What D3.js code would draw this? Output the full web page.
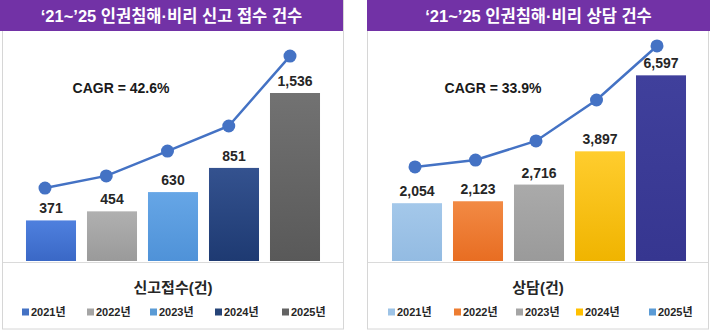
<!DOCTYPE html>
<html><head><meta charset="utf-8">
<script src="https://cdn.jsdelivr.net/npm/d3@7"></script>
<style>
html,body{margin:0;padding:0;background:#fff;}
svg{display:block;}
text{font-family:"Liberation Sans","Noto Sans CJK KR",sans-serif;}
</style></head>
<body>
<script>
// ---- data ----
const years = ["2021년","2022년","2023년","2024년","2025년"];
const reportTitle = "‘21~’25 인권침해·비리 신고 접수 건수";
const reportAxisTitle = "신고접수(건)";
const reportValues = [371, 454, 630, 851, 1536];
const reportTrend = [31.7, 37.0, 47.8, 58.7, 89.1];   // secondary-axis trend line (index 0–100)
const reportCagr = "CAGR = 42.6%";
const reportColors = [["#4f80de","#3a68c6"],["#b0b0b0","#9a9a9a"],["#66a6e6","#4f92d8"],["#34528f","#1e3a72"],["#727272","#595959"]];
const reportLegendColors = ["#4472c4","#a5a5a5","#5b9bd5","#264478","#636363"];

const counselTitle = "‘21~’25 인권침해·비리 상담 건수";
const counselAxisTitle = "상담(건)";
const counselValues = [2054, 2123, 2716, 3897, 6597];
const counselTrend = [40.9, 43.9, 52.2, 70.0, 93.5];  // secondary-axis trend line (index 0–100)
const counselCagr = "CAGR = 33.9%";
const counselColors = [["#a4c8ea","#93bbe2"],["#f28a44","#e86d22"],["#aaaaaa","#9a9a9a"],["#ffcd2e","#f0b400"],["#40409c","#363690"]];
const counselLegendColors = ["#9dc3e6","#ed7d31","#a5a5a5","#ffc000","#5b9bd5"];

const W = 710, H = 330;
const svg = d3.select("body").append("svg").attr("width", W).attr("height", H);
const defs = svg.append("defs");

function drawPanel(cfg) {
  const g = svg.append("g");
  // panel border
  g.append("rect").attr("x", cfg.px0 + 0.5).attr("y", 0.5)
    .attr("width", cfg.px1 - cfg.px0 - 1).attr("height", H - 1.5)
    .attr("fill", "#fff").attr("stroke", "#d6d6d6").attr("stroke-width", 1);
  // header
  g.append("rect").attr("x", cfg.hx0).attr("y", 0).attr("width", cfg.hx1 - cfg.hx0).attr("height", 31)
    .attr("fill", "#7232a6");
  g.append("text").attr("x", (cfg.hx0 + cfg.hx1) / 2).attr("y", 22)
    .attr("text-anchor", "middle").attr("fill", "#fff")
    .attr("font-family", "'Noto Sans CJK KR',sans-serif")
    .attr("font-weight", "bold").attr("font-size", 16.5).text(cfg.title);

  const x = d3.scaleBand().domain(years).range(cfg.xRange).paddingInner(0.18).paddingOuter(0.09);
  const y = d3.scaleLinear().domain(cfg.yDomain).range([261, cfg.yTop]);
  const xl = d3.scalePoint().domain(years).range(cfg.lineRange);
  const y2 = d3.scaleLinear().domain([0, 100]).range([261, 31]);

  // gradients
  cfg.colors.forEach((c, i) => {
    const gr = defs.append("linearGradient").attr("id", cfg.id + "g" + i)
      .attr("x1", 0).attr("y1", 0).attr("x2", 0).attr("y2", 1);
    gr.append("stop").attr("offset", "0%").attr("stop-color", c[0]);
    gr.append("stop").attr("offset", "100%").attr("stop-color", c[1]);
  });

  // bars
  g.selectAll(".bar").data(cfg.values).enter().append("rect")
    .attr("x", (d, i) => x(years[i])).attr("width", x.bandwidth())
    .attr("y", d => y(d)).attr("height", d => y(0) - y(d))
    .attr("fill", (d, i) => `url(#${cfg.id}g${i})`);

  // baseline axis
  g.append("line").attr("x1", cfg.px0 + 1).attr("x2", cfg.px1 - 1).attr("y1", 262.5).attr("y2", 262.5)
    .attr("stroke", "#dadada").attr("stroke-width", 1);

  // value labels
  g.selectAll(".vl").data(cfg.values).enter().append("text")
    .attr("x", (d, i) => x(years[i]) + x.bandwidth() / 2).attr("y", d => y(d) - 7)
    .attr("text-anchor", "middle").attr("font-weight", "bold").attr("font-size", 14)
    .attr("fill", "#262626").text(d => d3.format(",")(d));

  // trend line
  const line = d3.line().x((d, i) => xl(years[i])).y(d => y2(d));
  g.append("path").datum(cfg.trend).attr("d", line).attr("fill", "none")
    .attr("stroke", "#4472c4").attr("stroke-width", 2.5);
  g.selectAll(".pt").data(cfg.trend).enter().append("circle")
    .attr("cx", (d, i) => xl(years[i])).attr("cy", d => y2(d)).attr("r", 6.5)
    .attr("fill", "#4472c4");

  // CAGR
  g.append("text").attr("x", cfg.cagrX).attr("y", 93).attr("text-anchor", "middle")
    .attr("font-weight", "bold").attr("font-size", 14).attr("fill", "#1a1a1a").text(cfg.cagr);

  // axis title
  g.append("text").attr("x", (cfg.px0 + cfg.px1) / 2).attr("y", 293).attr("text-anchor", "middle")
    .attr("font-family", "'Noto Sans CJK KR',sans-serif")
    .attr("font-weight", "bold").attr("font-size", 15).attr("fill", "#262626").text(cfg.axisTitle);

  // legend
  const lg = g.selectAll(".lg").data(years).enter().append("g")
    .attr("transform", (d, i) => `translate(${cfg.legendX[i]},312)`);
  lg.append("rect").attr("x", 0).attr("y", -3.5).attr("width", 7).attr("height", 7)
    .attr("fill", (d, i) => cfg.legendColors[i]);
  lg.append("text").attr("x", 9).attr("y", 4).attr("font-weight", "bold").attr("font-size", 11)
    .attr("fill", "#262626").text(d => d);
}

drawPanel({
  id: "r", px0: 2, px1: 344, hx0: 0, hx1: 343, title: reportTitle,
  xRange: [20.5, 325.5], yDomain: [0, 1600], yTop: 86, lineRange: [45, 290],
  values: reportValues, trend: reportTrend, colors: reportColors, cagr: reportCagr, cagrX: 121,
  axisTitle: reportAxisTitle, legendColors: reportLegendColors, legendX: [22, 87, 150, 215, 282]
});
drawPanel({
  id: "c", px0: 367, px1: 709, hx0: 367, hx1: 710, title: counselTitle,
  xRange: [386.5, 691.5], yDomain: [0, 7000], yTop: 64, lineRange: [415, 657],
  values: counselValues, trend: counselTrend, colors: counselColors, cagr: counselCagr, cagrX: 493,
  axisTitle: counselAxisTitle, legendColors: counselLegendColors, legendX: [388, 454, 516, 576, 649]
});
</script>
</body></html>
